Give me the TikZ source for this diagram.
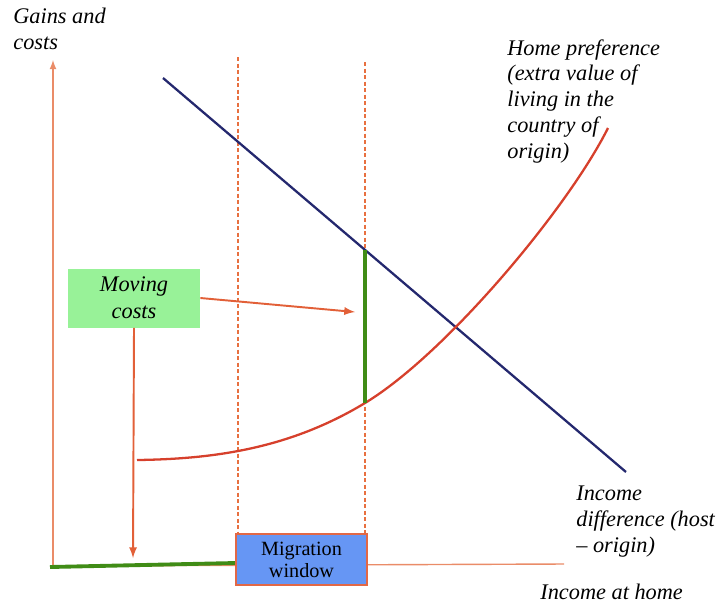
\documentclass[tikz,border=0pt]{standalone}
\usepackage{fontspec}
\setmainfont{Liberation Serif}
\usetikzlibrary{positioning}
\definecolor{axisorange}{RGB}{234,140,104}
\definecolor{dashorange}{RGB}{232,112,64}
\definecolor{arrorange}{RGB}{226,96,56}
\definecolor{navyline}{RGB}{36,40,110}
\definecolor{redline}{RGB}{214,64,44}
\definecolor{greenline}{RGB}{64,140,22}
\definecolor{boxgreen}{RGB}{152,242,152}
\definecolor{boxblue}{RGB}{102,150,244}
\definecolor{boxedge}{RGB}{226,104,70}
\begin{document}
\begin{tikzpicture}[x=0.02cm,y=-0.02cm,
    lbl/.style={font=\fontsize{12.7}{14.7}\selectfont\itshape, align=left},
    arr/.style={arrorange, line width=1.1pt, ->, >=latex}]
    \tikzstyle{every node}+=[inner sep=0pt]
    \useasboundingbox (0,0) rectangle (720,603);
    \coordinate (O) at (53,566);
    \coordinate (ytop) at (53,60);
    \coordinate (xend) at (564,564);
    \node [minimum width=2.62cm, minimum height=1.02cm] (win) at (301.5,559.5) {};
    \node [fill=boxgreen, minimum width=2.64cm, minimum height=1.18cm, align=center,
        font=\fontsize{12.7}{15.5}\selectfont\itshape] (mc) at (134,298) {Moving\\costs};
    \coordinate (d1) at (238,57);
    \coordinate (d2) at (365,62);
    \coordinate (bl1) at (163,78);
    \coordinate (bl2) at (626,472);
    \coordinate (gtop) at (365,250);
    \coordinate (gbot) at (365,403);
    \coordinate (hpstart) at (137,460);
    \coordinate (hpend) at (608,128);
    \coordinate (mcend) at (355,312);
    \coordinate (mcdown) at (133,558);
    \draw [axisorange, line width=0.8pt, ->, >=latex] (O) -- (ytop);
    \draw [axisorange, line width=0.8pt] (O) -- (xend);
    \draw [greenline, line width=2.2pt] (50,567) -- (win.west |- 0,563);
    \draw [dashorange, line width=0.7pt, dash pattern=on 2.5pt off 1.2pt] (d1) -- (d1 |- win.north);
    \draw [dashorange, line width=0.7pt, dash pattern=on 2.5pt off 1.2pt] (d2) -- (d2 |- win.north);
    \node [draw=boxedge, line width=0.8pt, fill=boxblue, minimum width=2.62cm, minimum height=1.02cm,
        align=center, font=\fontsize{11.5}{12.5}\selectfont] at (win) {Migration\\window};
    \draw [navyline, line width=1.3pt] (bl1) -- (bl2);
    \draw [redline, line width=1.3pt] (hpstart) .. controls (213,459) and (289,449) .. (gbot)
        .. controls (446,354) and (568,208) .. (hpend);
    \draw [greenline, line width=2pt] (gtop) -- (gbot);
    \draw [arr] (mc.east) -- (mcend);
    \draw [arr] (mc.south) -- (mcdown);
    \node [lbl, anchor=north west] (gc) at (13,8) {Gains and\\costs};
    \node [lbl, anchor=north west] (hp) at (507,39) {Home preference\\(extra value of\\living in the\\country of\\origin)};
    \node [lbl, anchor=north west] (idiff) at (576,486) {Income\\difference (host\\– origin)};
    \node [lbl, anchor=north west] (ih) at (540,584) {Income at home};
\end{tikzpicture}
\end{document}
